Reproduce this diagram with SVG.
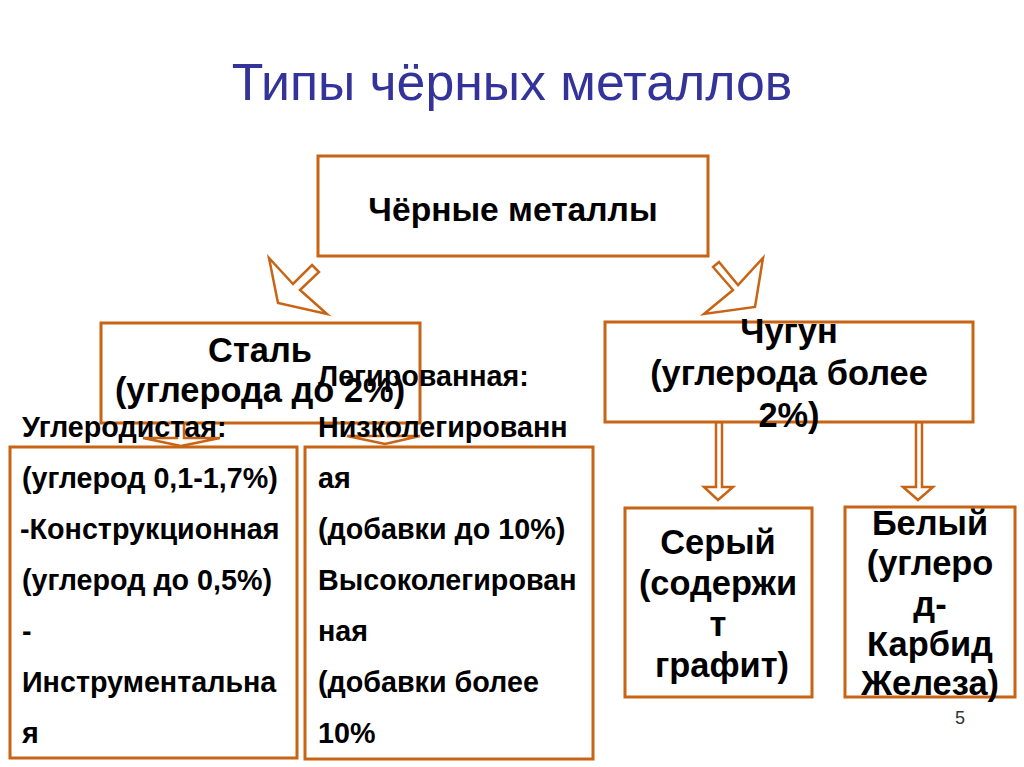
<svg xmlns="http://www.w3.org/2000/svg" width="1024" height="767" viewBox="0 0 1024 767">
<style>
.box{fill:#fff;stroke:#c86414;stroke-width:3}
.arr{fill:#fff;stroke:#c86414;stroke-width:2.5;stroke-linejoin:miter}
.t{font-family:"Liberation Sans",Arial,sans-serif;font-weight:bold;fill:#000}
.c{text-anchor:middle}
.l{font-size:28.7px}
.b{font-size:34.4px}
</style>
<rect width="1024" height="767" fill="#fff"/>
<text x="512" y="100" font-family="Liberation Sans, Arial, sans-serif" font-size="51.8" fill="#333399" text-anchor="middle">Типы чёрных металлов</text>
<g id="connectors">
<polygon class="arr" points="312,265 319,272 300,290 327,314 278,303 269,258 293,284"/>
<polygon class="arr" points="713,267 719,262 738,285 763,258 755,307 704,314 733,290"/>
<polygon class="arr" points="716,422 722,422 722,487 733,487 718,500 704,487 716,487"/>
<polygon class="arr" points="916,422 922,422 922,487 933,487 918,500 903,487 916,487"/>
<polygon class="arr" points="177,423 184,423 184,438 220,438 181,446 143,438 177,438"/>
<polygon class="arr" points="381,423 388,423 388,436 420,436 385,444 347,436 381,436"/>
</g>
<g id="node-black">
<rect class="box" x="318" y="156" width="390" height="100"/>
<text class="t c" x="513" y="221" font-size="33.6">Чёрные металлы</text>
</g>
<g id="node-steel">
<rect class="box" x="101" y="323" width="319" height="100"/>
<text class="t c b" x="260" y="362">Сталь</text>
<text class="t c b" x="260" y="402">(углерода до 2%)</text>
</g>
<g id="node-iron">
<rect class="box" x="605" y="322" width="368" height="100"/>
<text class="t c b" x="789" y="343">Чугун</text>
<text class="t c b" x="789" y="385">(углерода более</text>
<text class="t c b" x="789" y="427">2%)</text>
</g>
<g id="node-carbon">
<rect class="box" x="10" y="447" width="287" height="311"/>
<text class="t l" x="22" y="437">Углеродистая:</text>
<text class="t l" x="22" y="488">(углерод 0,1-1,7%)</text>
<text class="t l" x="20" y="539">-Конструкционная</text>
<text class="t l" x="22" y="590">(углерод до 0,5%)</text>
<text class="t l" x="22" y="641">-</text>
<text class="t l" x="22" y="692">Инструментальна</text>
<text class="t l" x="22" y="743">я</text>
</g>
<g id="node-alloy">
<rect class="box" x="305" y="447" width="288" height="312"/>
<text class="t l" x="318" y="386">Легированная:</text>
<text class="t l" x="318" y="437">Низколегированн</text>
<text class="t l" x="318" y="488">ая</text>
<text class="t l" x="318" y="539">(добавки до 10%)</text>
<text class="t l" x="318" y="590">Высоколегирован</text>
<text class="t l" x="318" y="641">ная</text>
<text class="t l" x="318" y="692">(добавки более</text>
<text class="t l" x="318" y="743">10%</text>
</g>
<g id="node-grey">
<rect class="box" x="625" y="508" width="187" height="189"/>
<text class="t c b" x="718" y="554">Серый</text>
<text class="t c b" x="718" y="595">(содержи</text>
<text class="t c b" x="718" y="636">т</text>
<text class="t c b" x="722" y="677">графит)</text>
</g>
<g id="node-white">
<rect class="box" x="845" y="507" width="170" height="190"/>
<text class="t c b" x="930" y="535">Белый</text>
<text class="t c b" x="930" y="575">(углеро</text>
<text class="t c b" x="930" y="616">д-</text>
<text class="t c b" x="930" y="656">Карбид</text>
<text class="t c b" x="930" y="695">Железа)</text>
</g>
<text x="960" y="724" font-family="Liberation Sans, Arial, sans-serif" font-size="18" fill="#333" text-anchor="middle">5</text>
</svg>
